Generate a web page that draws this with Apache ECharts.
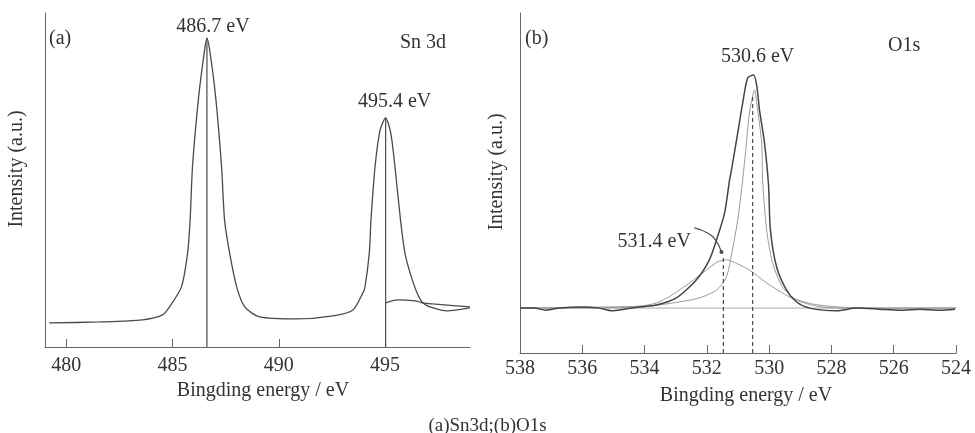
<!DOCTYPE html>
<html>
<head>
<meta charset="utf-8">
<script src="https://cdn.jsdelivr.net/npm/echarts@6/dist/echarts.min.js"></script>
<style>
  html, body { margin: 0; padding: 0; background: #fff; }
  #chart { width: 975px; height: 433px; }
</style>
</head>
<body>
<div id="chart"></div>
<script>
// (a) Sn 3d spectrum
const snX = [479.2, 481.56, 483.58, 484.53, 484.86, 485.42, 485.71, 485.83, 485.94, 486.23, 486.51, 486.62,
  486.75, 487.03, 487.31, 487.45, 487.69, 488.02, 488.40, 489.10, 490.85, 492.55, 493.49, 493.96,
  494.06, 494.26, 494.34, 494.53, 494.77, 495.03, 495.27, 495.47, 495.73, 495.94, 496.18, 496.51,
  496.79, 497.26, 497.92, 499.0];
const snY = [7.2, 7.5, 8.1, 9.6, 12.0, 18.0, 28.1, 38.0, 53.9, 74.9, 88.9, 92.5,
  88.9, 74.9, 53.9, 38.0, 28.1, 18.0, 12.0, 9.0, 8.4, 9.3, 11.1, 16.2,
  18.0, 28.1, 38.0, 53.9, 65.0, 68.6, 64.1, 53.9, 38.0, 28.1, 22.2, 16.2,
  13.2, 11.7, 10.8, 11.7];
const snBgX = [495.03, 495.57, 496.42, 496.79, 497.26, 499.0];
const snBgY = [13.2, 14.1, 13.8, 13.2, 12.9, 12.0];
const snPeakX = [486.62, 495.03];
const snPeakY = [92.5, 68.6];
const snPeakLabels = ["486.7 eV", "495.4 eV"];
const snTicks = [480, 485, 490, 495];

// (b) O1s spectrum
const oEnvX = [538.0, 537.55, 537.16, 536.74, 536.0, 535.46, 535.04, 534.65, 534.17, 533.62, 532.98, 532.34,
  531.92, 531.66, 531.43, 531.27, 531.21, 531.01, 530.85, 530.69, 530.50, 530.40, 530.31, 530.15,
  530.02, 529.96, 529.76, 529.44, 529.12, 528.70, 527.83, 527.19, 526.45, 525.80, 525.16, 524.51, 524.03];
const oEnvY = [13.2, 13.2, 12.6, 13.2, 13.5, 13.2, 12.4, 12.9, 13.5, 14.1, 16.2, 21.5,
  27.4, 34.1, 41.2, 50.9, 53.8, 64.7, 73.5, 80.9, 81.8, 78.8, 71.5, 61.8,
  49.4, 36.2, 25.3, 18.5, 15.0, 13.2, 12.4, 13.2, 12.9, 12.6, 12.9, 12.6, 12.9];
const oC1X = [538.0, 534.17, 533.11, 532.24, 531.69, 531.37, 531.18, 531.01, 530.85, 530.73, 530.66, 530.60,
  530.47, 530.40, 530.24, 530.21, 530.08, 529.89, 529.57, 529.12, 528.47, 527.73, 524.0];
const oC1Y = [13.2, 13.5, 14.7, 16.2, 18.5, 22.4, 30.3, 39.1, 50.9, 61.8, 68.5, 72.4,
  77.4, 73.5, 61.8, 50.9, 36.2, 26.5, 19.4, 15.6, 13.8, 13.2, 13.2];
const oC2X = [538.0, 535.46, 534.17, 533.62, 533.11, 532.56, 532.01, 531.66, 531.37, 531.01, 530.63, 530.08,
  529.34, 528.60, 527.73, 526.45, 524.0];
const oC2Y = [13.2, 13.5, 13.8, 14.7, 17.1, 20.6, 24.4, 26.8, 27.4, 26.2, 24.4, 20.6,
  16.5, 14.4, 13.5, 13.2, 13.2];
const oBaseX = [538.0, 524.0];
const oBaseY = [13.2, 13.2];
const oPeakX = [530.53, 531.47];
const oPeakY = [75.9, 28.2];
const oEnvTop = [530.50, 81.8];
const oArrowX = [532.40, 531.98, 531.72, 531.53];
const oArrowY = [36.8, 35.3, 33.2, 29.7];
const oPeakLabels = ["530.6 eV", "531.4 eV"];

const FONT = "Liberation Serif, Times New Roman, serif";
const TEXT = "#333";
const LINE = "#4a4a4a";
const LIGHT = "#9a9a9a";

const zip = (xs, ys) => xs.map((x, i) => [x, ys[i]]);

const chart = echarts.init(document.getElementById("chart"));

const xBase = {
  type: "value",
  nameLocation: "middle",
  nameTextStyle: { fontFamily: FONT, fontSize: 20, color: TEXT },
  axisLine: { lineStyle: { color: "#666", width: 1 } },
  axisTick: { inside: true, length: 8, lineStyle: { color: "#666" } },
  axisLabel: { fontFamily: FONT, fontSize: 20, color: TEXT },
  splitLine: { show: false },
};
const yBase = {
  type: "value",
  min: 0,
  max: 100,
  name: "Intensity (a.u.)",
  nameLocation: "middle",
  nameTextStyle: { fontFamily: FONT, fontSize: 20, color: TEXT, padding: [0, 0, 0, 22] },
  axisLine: { show: true, lineStyle: { color: "#666", width: 1 } },
  axisTick: { show: false },
  axisLabel: { show: false },
  splitLine: { show: false },
};

const lineSeries = (name, data, color, width, xi, extra) => Object.assign({
  name, type: "line", data, xAxisIndex: xi, yAxisIndex: xi,
  symbol: "none", smooth: 0.25, animation: false,
  lineStyle: { color, width },
}, extra || {});

// invisible points that only carry a text label
const labelSeries = (xi, points) => ({
  type: "scatter", xAxisIndex: xi, yAxisIndex: xi, symbolSize: 1, animation: false,
  itemStyle: { opacity: 0 },
  data: points.map((p) => ({
    value: p.value,
    label: Object.assign({ show: true, fontFamily: FONT, fontSize: 20, color: TEXT, opacity: 1 }, p.label),
  })),
});

const series = [
  lineSeries("Sn 3d", zip(snX, snY), LINE, 1.3, 0),
  lineSeries("Sn bg", zip(snBgX, snBgY), LINE, 1.2, 0),
  ...snPeakX.map((x, i) => lineSeries("Sn peak " + i, [[x, 0], [x, snPeakY[i]]], LINE, 1.2, 0, { smooth: false })),
  labelSeries(0, snPeakX.map((x, i) => ({
    value: [x, snPeakY[i]],
    label: { position: "top", distance: i === 0 ? 1 : 6, offset: i === 0 ? [6, 0] : [9, 0], formatter: snPeakLabels[i] },
  }))),
  lineSeries("O baseline", zip(oBaseX, oBaseY), "#aaa", 1, 1, { smooth: false }),
  lineSeries("O 531.4", zip(oC2X, oC2Y), LIGHT, 1, 1),
  lineSeries("O 530.6", zip(oC1X, oC1Y), LIGHT, 1, 1),
  lineSeries("O1s", zip(oEnvX, oEnvY), "#444", 1.5, 1),
  ...oPeakX.map((x, i) => lineSeries("O peak " + i, [[x, 0], [x, oPeakY[i]]], LINE, 1.2, 1,
    { smooth: false, lineStyle: { color: LINE, width: 1.2, type: [4, 3] } })),
  lineSeries("O arrow", zip(oArrowX, oArrowY).map((v, i, a) => (i === a.length - 1
    ? { value: v, symbol: "circle", symbolSize: 4, itemStyle: { color: LINE } } : v)),
    LINE, 1.2, 1, { smooth: 0.5, showSymbol: true, symbol: "none" }),
  labelSeries(1, [
    { value: oEnvTop, label: { position: "top", distance: 8, offset: [4, 0], formatter: oPeakLabels[0] } },
    { value: [oArrowX[0], oArrowY[0]], label: { position: "left", distance: 3, offset: [0, 14], formatter: oPeakLabels[1] } },
  ]),
];

const option = {
  backgroundColor: "#fff",
  animation: false,
  title: {
    text: "(a)Sn3d;(b)O1s",
    left: "center",
    top: 412,
    textStyle: { fontFamily: FONT, fontSize: 19, fontWeight: "normal", color: TEXT },
  },
  grid: [
    { left: 45, top: 13, width: 425, height: 334 },
    { left: 520, top: 13, width: 436, height: 340 },
  ],
  xAxis: [
    Object.assign({}, xBase, {
      gridIndex: 0, min: 479, max: 499,
      name: "Bingding energy / eV", nameGap: 34,
      nameTextStyle: Object.assign({}, xBase.nameTextStyle, { padding: [0, 0, 0, 11] }),
      axisTick: Object.assign({}, xBase.axisTick, { customValues: snTicks }),
      axisLabel: Object.assign({}, xBase.axisLabel, { customValues: snTicks, margin: 9 }),
    }),
    Object.assign({}, xBase, {
      gridIndex: 1, min: 524, max: 538, interval: 2, inverse: true,
      name: "Bingding energy / eV", nameGap: 33,
      nameTextStyle: Object.assign({}, xBase.nameTextStyle, { padding: [0, 0, 0, 16] }),
      axisLabel: Object.assign({}, xBase.axisLabel, { margin: 6 }),
    }),
  ],
  yAxis: [
    Object.assign({}, yBase, { gridIndex: 0, nameGap: 18 }),
    Object.assign({}, yBase, { gridIndex: 1, nameGap: 13 }),
  ],
  graphic: [
    { type: "text", left: 49, top: 29, style: { text: "(a)", font: "20px " + FONT, fill: TEXT } },
    { type: "text", left: 400, top: 33, style: { text: "Sn 3d", font: "20px " + FONT, fill: TEXT } },
    { type: "text", left: 525, top: 29, style: { text: "(b)", font: "20px " + FONT, fill: TEXT } },
    { type: "text", left: 888, top: 36, style: { text: "O1s", font: "20px " + FONT, fill: TEXT } },
  ],
  series,
};

chart.setOption(option);
</script>
</body>
</html>
